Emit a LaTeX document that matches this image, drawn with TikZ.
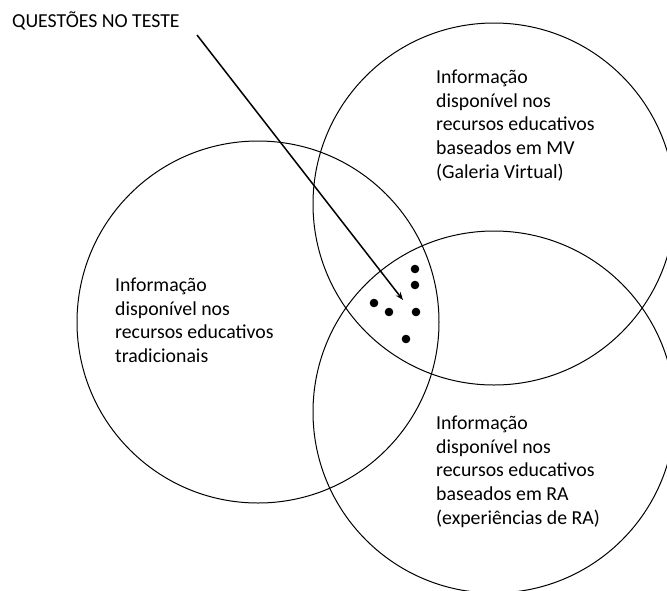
\documentclass[tikz,border=0pt]{standalone}
\usepackage{fontspec}
\setmainfont{Carlito}
\usetikzlibrary{arrows.meta}
\tikzset{every node/.style={align=left, inner sep=0pt}, >= {Stealth[length=8pt,width=6pt]}, font=\fontsize{19.8}{23.6}\selectfont}
\tikzset{venn/.style={circle, draw, line width=1pt, minimum size=362pt}}

\begin{document}
\begin{tikzpicture}[x=1pt,y=-1pt]
            \useasboundingbox (0,0) rectangle (667,590);
            \clip (0,0) rectangle (667,590);
            % the three sets
            \node [venn] (trad) at (258,322) {};
            \node [venn] (mv) at (494,204) {};
            \node [venn] (ra) at (494,412) {};

            \node [anchor=north west] (ttrad) at (115,278) {Informação\\disponível nos\\recursos educativos\\tradicionais};
            \node [anchor=north west] (tmv) at (436,70) {Informação\\disponível nos\\recursos educativos\\baseados em MV\\(Galeria Virtual)};
            \node [anchor=north west] (tra) at (436,416) {Informação\\disponível nos\\recursos educativos\\baseados em RA\\(experiências de RA)};

            \node [anchor=base west] (titulo) at (12,27) {QUESTÕES NO TESTE};
            \coordinate (qini) at (197,35);
            \coordinate (qfim) at (403,300);
            \draw [->, line width=1.5pt] (qini) -- (qfim);

            \foreach \x/\y in {415/269, 415/285, 374/303, 389/312, 416/312, 406/339}
                \fill (\x,\y) circle (4.3);
        \end{tikzpicture}
\end{document}
